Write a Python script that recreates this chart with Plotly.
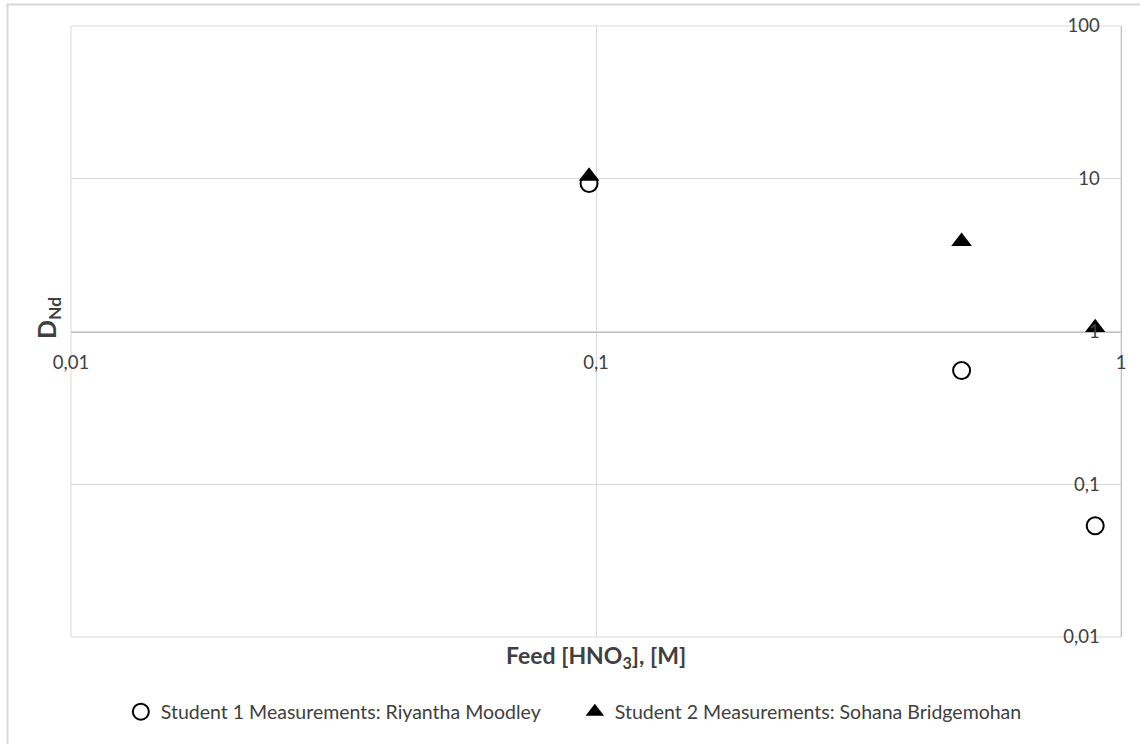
import plotly.graph_objects as go

# Data
student1_x = [0.097, 0.497, 0.893]
student1_y = [9.3, 0.555, 0.0535]
student2_x = [0.097, 0.497, 0.893]
student2_y = [10.4, 3.89, 1.06]

series1_name = "Student 1 Measurements: Riyantha Moodley"
series2_name = "Student 2 Measurements: Sohana Bridgemohan"

x_tickvals = [0.01, 0.1, 1]
x_ticktext = ["0,01", "0,1", "1"]
y_tickvals = [0.01, 0.1, 1, 10, 100]
y_ticktext = ["0,01", "0,1", "1", "10", "100"]

FONT = "Lato"

fig = go.Figure()
fig.add_trace(go.Scatter(
    x=student1_x, y=student1_y, mode="markers", name=series1_name,
    marker=dict(symbol="circle-open", size=17, color="black", line=dict(width=2, color="black")),
))
fig.add_trace(go.Scatter(
    x=student2_x, y=student2_y, mode="markers", name=series2_name,
    marker=dict(symbol="triangle-up", size=18, color="black"),
))

fig.update_layout(
    width=1140, height=744,
    margin=dict(l=71, r=19, t=26, b=107, autoexpand=False),
    paper_bgcolor="white", plot_bgcolor="white",
    font=dict(family=FONT, size=18, color="#404040"),
    showlegend=True,
    legend=dict(
        orientation="h", xref="container", yref="container",
        x=0.106, xanchor="left", y=0.043, yanchor="middle",
        font=dict(family=FONT, size=19.5, color="#404040"),
        entrywidth=409, entrywidthmode="pixels",
        itemwidth=30, bgcolor="rgba(0,0,0,0)",
    ),
    xaxis=dict(
        type="log", range=[-2, 0], automargin=False,
        tickvals=x_tickvals, ticktext=x_ticktext,
        showgrid=True, gridcolor="#d9d9d9", gridwidth=1,
        showline=True, linecolor="#bfbfbf", linewidth=1,
        anchor="free", position=0.5,
        ticks="", ticklabelstandoff=14,
        zeroline=False,
        tickfont=dict(family=FONT, size=18.5, color="#404040"),
    ),
    yaxis=dict(
        type="log", range=[-2, 2], automargin=False,
        tickvals=y_tickvals, ticktext=y_ticktext,
        showgrid=True, gridcolor="#d9d9d9", gridwidth=1,
        showline=True, linecolor="#bfbfbf", linewidth=1,
        side="right", ticklabelposition="inside", ticklabeloverflow="allow",
        ticks="", ticklabelstandoff=22,
        zeroline=False,
        tickfont=dict(family=FONT, size=18.5, color="#404040"),
    ),
    annotations=[
        dict(text="<b>Feed [HNO<sub>3</sub>], [M]</b>", xref="paper", yref="paper",
             x=0.5, y=-0.0327, xanchor="center", yanchor="middle", showarrow=False,
             font=dict(family=FONT, size=23, color="#404040")),
        dict(text="<b>D<sub>Nd</sub></b>", xref="paper", yref="paper",
             x=-0.0219, y=0.522, xanchor="center", yanchor="middle", showarrow=False,
             textangle=-90, font=dict(family=FONT, size=25, color="#404040")),
    ],
    shapes=[
        dict(type="rect", xref="paper", yref="paper", x0=-0.0605, x1=1.2, y0=-0.4, y1=1.0352,
             line=dict(color="#d9d9d9", width=2), layer="below"),
        dict(type="rect", xref="paper", yref="paper", x0=0, x1=1, y0=0, y1=1,
             line=dict(color="#d9d9d9", width=1), layer="below"),
    ],
)

fig.write_html("out.html", config={"displayModeBar": False},
               post_script="document.body.style.margin='0px';")
